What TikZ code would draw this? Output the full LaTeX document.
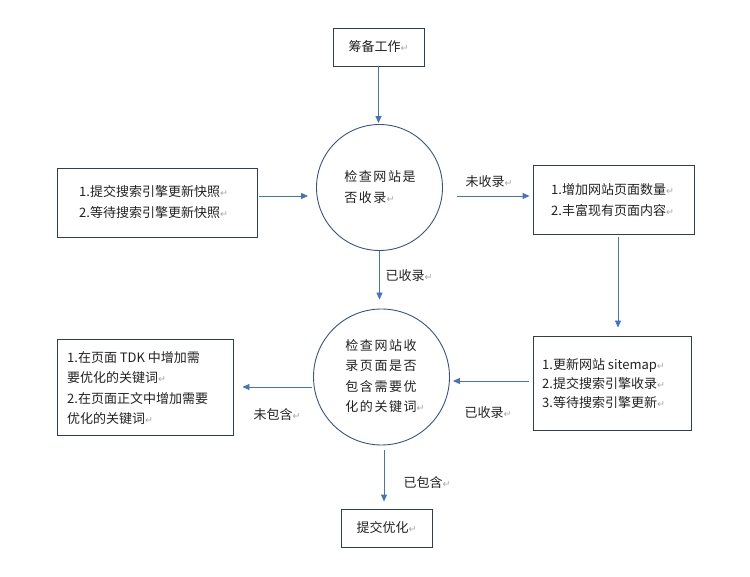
\documentclass[tikz,border=0pt]{standalone}
\usepackage{fontspec}
\setmainfont{Noto Sans CJK SC}
\newfontfamily\symfont{DejaVu Sans}
\newfontfamily\spacedfont[LetterSpace=12]{Noto Sans CJK SC}
\usetikzlibrary{arrows.meta,calc}
\definecolor{boxline}{HTML}{2F3D5A}
\definecolor{circline}{HTML}{3C5285}
\definecolor{arrowblue}{HTML}{4472C4}
\definecolor{txt}{HTML}{222222}
\definecolor{retgray}{HTML}{A8A8A8}
\newcommand{\retmark}{{\color{retgray}\symfont\fontsize{9.5}{9.5}\selectfont ↵}}
\begin{document}
\begin{tikzpicture}[x=1pt,y=-1pt,
  every node/.style={text=txt,font=\fontsize{13}{20.5}\selectfont},
  boxnode/.style={draw=boxline,line width=0.9pt,rectangle,inner sep=0pt},
  circnode/.style={draw=circline,line width=0.9pt,circle,inner sep=0pt},
  lbl/.style={inner sep=0pt},
  ctext/.style={inner sep=0pt,align=left,font=\spacedfont\fontsize{13}{20.5}\selectfont},
  arr/.style={draw=arrowblue,line width=0.9pt,-{Triangle[length=7pt,width=6pt]}}]
\useasboundingbox[fill=white] (0,0) rectangle (750,577);

\node[boxnode,minimum width=91pt,minimum height=38pt] (prep) at (378.5,47) {筹备工作\retmark};
\node[circnode,minimum size=126pt] (c1) at (379.5,187.5) {};
\node[ctext] (c1t) at (380,187) {检查网站是\\否收录\retmark};
\node[boxnode,minimum width=200pt,minimum height=69pt] (lb1) at (157,202.5) {};
\node[lbl,align=left,anchor=west] (lb1t) at (79,202) {1.提交搜索引擎更新快照\retmark\\2.等待搜索引擎更新快照\retmark};
\node[boxnode,minimum width=161pt,minimum height=69pt] (rb1) at (613.5,199.5) {};
\node[lbl,align=left,anchor=west] (rb1t) at (551,200) {1.增加网站页面数量\retmark\\2.丰富现有页面内容\retmark};
\node[boxnode,minimum width=158pt,minimum height=94pt] (rb2) at (612,383) {};
\node[lbl,align=left,anchor=west,font=\fontsize{13}{19}\selectfont] (rb2t) at (542,384) {1.更新网站 sitemap\retmark\\2.提交搜索引擎收录\retmark\\3.等待搜索引擎更新\retmark};
\node[circnode,minimum size=136pt] (c2) at (381.5,377) {};
\node[ctext] (c2t) at (385,376) {检查网站收\\录页面是否\\包含需要优\\化的关键词\retmark};
\node[boxnode,minimum width=176pt,minimum height=96pt] (lb2) at (145,387) {};
\node[lbl,align=left,anchor=west] (lb2t) at (67,388) {1.在页面 TDK 中增加需\\要优化的关键词\retmark\\2.在页面正文中增加需要\\优化的关键词\retmark};
\node[boxnode,minimum width=91pt,minimum height=38pt] (opt) at (386.5,528) {提交优化\retmark};

\node[lbl] (l1) at (489,182) {未收录\retmark};
\node[lbl] (l2) at (409,276) {已收录\retmark};
\node[lbl] (l3) at (277,415) {未包含\retmark};
\node[lbl] (l4) at (488,413) {已收录\retmark};
\node[lbl] (l5) at (427,483) {已包含\retmark};

\draw[arr,shorten >=1pt] (prep.south) -- (prep.south |- c1.north);
\draw[arr,shorten <=2pt,shorten >=8pt] ([yshift=6.5pt]lb1.east) -- ([yshift=6.5pt]lb1.east -| c1.west);
\draw[arr,shorten <=14pt,shorten >=3pt] ([yshift=-8.5pt]c1.east) -- ([yshift=-8.5pt]c1.east -| rb1.west);
\draw[arr,shorten <=3pt,shorten >=8pt] ([xshift=4.5pt]rb1.south) -- ([xshift=4.5pt]rb1.south |- rb2.north);
\draw[arr,shorten <=4pt,shorten >=3pt] ([yshift=2pt]rb2.west) -- ([yshift=2pt]rb2.west -| c2.east);
\draw[arr,shorten >=9pt] (c1.south) -- (c1.south |- c2.north);
\draw[arr,shorten <=1pt,shorten >=9pt] ([yshift=-10pt]c2.west) -- ([yshift=-10pt]c2.west -| lb2.east);
\draw[arr,shorten <=5pt,shorten >=7pt] ([xshift=2.5pt]c2.south) -- ([xshift=2.5pt]c2.south |- opt.north);
\end{tikzpicture}
\end{document}
